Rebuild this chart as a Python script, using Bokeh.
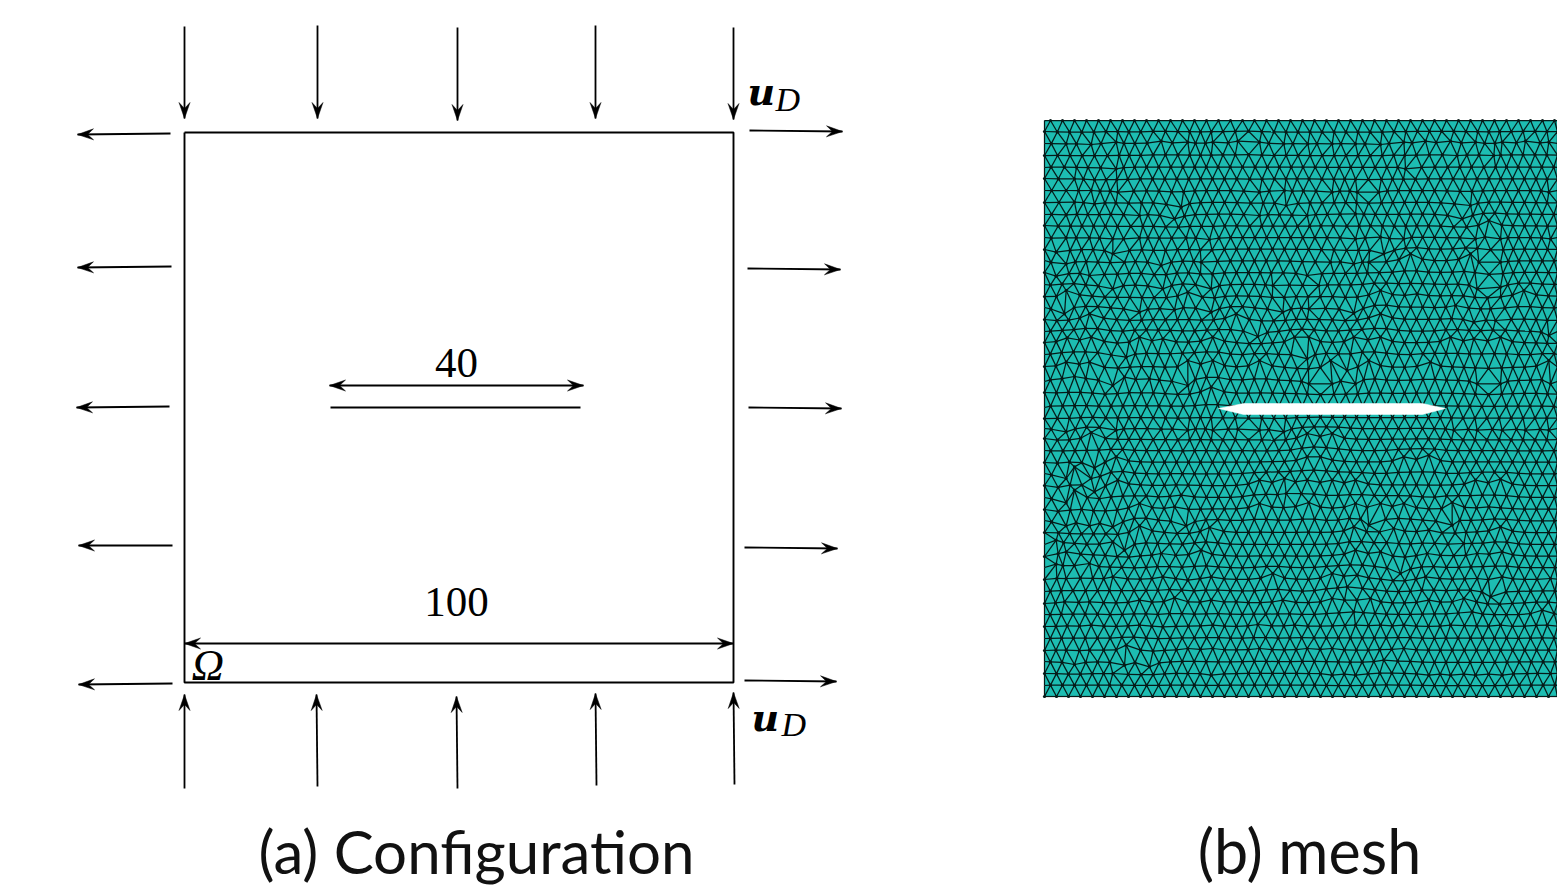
import numpy as np
from bokeh.plotting import figure
from bokeh.models import Range1d
from bokeh.core.properties import value
from bokeh.embed import file_html
from bokeh.resources import INLINE

# Boundary-load arrows: start x, start y, tip x, tip y
down_x0 = [184, 317, 457, 595, 733]
down_y0 = [26, 25, 27, 25, 27]
down_x1 = [184, 317, 457, 595, 733]
down_y1 = [118, 118, 120, 118, 119]
up_x0 = [184, 317, 457, 596, 734]
up_y0 = [788, 786, 788, 785, 784]
up_x1 = [184, 316, 456, 595, 733]
up_y1 = [694, 694, 696, 693, 692]
left_x0 = [170, 171, 169, 172, 172]
left_y0 = [133, 266, 406, 545, 683]
left_x1 = [77, 77, 76, 78, 78]
left_y1 = [134, 267, 407, 545, 684]
right_x0 = [749, 747, 748, 744, 744]
right_y0 = [130, 268, 407, 547, 680]
right_x1 = [842, 840, 841, 837, 836]
right_y1 = [131, 269, 408, 548, 681]

# Dimension arrows (both ends have a head)
dim_x0 = [329, 184]
dim_x1 = [583, 733]
dim_y = [385, 643]
dim_labels = ["40", "100"]
dim_label_x = [456, 456]
dim_label_y = [362, 601]

# Domain outline and crack
square_x = [184, 733, 733, 184, 184]
square_y = [132, 132, 682, 682, 132]
crack_line_x = [330, 580]
crack_line_y = [407, 407]

# Captions
caption_a, caption_a_x, caption_a_y = "(a) Configuration", 476, 850
caption_b, caption_b_x, caption_b_y = "(b) mesh", 1309, 850

# Mesh rows and columns
mesh_rows = [120, 131, 143, 155, 167, 178, 190, 202, 214, 225, 237, 249, 260,
             272, 284, 296, 307, 319, 331, 342, 354, 366, 381, 392, 407, 418,
             428, 438, 450, 462, 473, 485, 497, 509, 520, 532, 544, 556, 567,
             579, 591, 603, 614, 626, 638, 650, 661, 673, 685, 696]
mesh_cols = [1038, 1050, 1062, 1074, 1086, 1098, 1110, 1122, 1134, 1146, 1158,
             1170, 1182, 1194, 1206, 1218, 1230, 1242, 1254, 1266, 1278, 1290,
             1302, 1314, 1326, 1338, 1350, 1362, 1374, 1386, 1398, 1410, 1422,
             1434, 1446, 1458, 1470, 1482, 1494, 1506, 1518, 1530, 1542, 1554, 1566]
mesh_left, mesh_right, mesh_top, mesh_bottom = 1044, 1557, 120, 696
hole_x = [1218, 1243, 1422, 1445, 1422, 1243]
hole_y = [408, 403, 403, 408, 414, 414]

hubs_top_left = [(65,70),(140,72),(215,65),(350,62),(430,65),(505,65),(580,62),(645,65),(718,70),
    (90,175),(150,178),(215,145),(65,210),(140,210),(220,215),(90,245),(150,250),(285,285),
    (410,260),(390,295),(65,283),(65,352),(135,352),(205,355),(285,352),(425,352),(495,357),
    (645,215),(720,210),(725,255),(645,285),(35,395),(65,430),(35,467),(135,465),(205,400),
    (240,425),(350,435),(470,425),(65,510),(205,505),(355,505),(430,515),(500,505),(685,495),
    (60,580),(135,580),(285,575),(390,568),(500,575),(575,580),(715,575),(68,652),(140,650),
    (285,650),(355,655),(505,650),(640,648),(750,650),(65,725),(135,725),(245,710),(430,720),
    (505,720),(645,720),(90,768),(240,770),(315,775),(500,800),(430,795),(205,795)]
hubs_top_right = [(22,70),(95,70),(165,70),(240,72),(310,65),(375,62),(450,62),(525,65),(605,65),
    (675,62),(745,65),(95,215),(170,215),(235,215),(315,145),(470,105),(580,105),(745,215),
    (510,255),(485,295),(565,300),(20,285),(165,280),(240,350),(310,355),(525,355),(600,355),
    (750,355),(165,355),(90,425),(160,430),(205,425),(250,400),(330,400),(510,400),(535,425),
    (600,425),(20,465),(55,495),(240,510),(350,520),(530,505),(600,500),(670,510),(25,565),
    (160,578),(240,580),(465,555),(570,565),(520,605),(585,600),(745,645),(25,650),(160,650),
    (240,650),(450,650),(520,655),(600,650),(20,715),(90,720),(205,720),(390,725),(745,720),
    (25,790),(95,790),(165,790),(530,790),(600,790),(750,790),(140,750)]
hubs_bottom_right = [(20,75),(95,75),(460,65),(530,65),(605,65),(675,65),(745,65),(20,145),(60,145),
    (310,145),(385,140),(20,215),(95,215),(165,215),(525,215),(600,212),(25,282),(165,285),
    (240,285),(310,285),(455,282),(565,295),(160,355),(205,350),(280,360),(385,365),(455,350),
    (600,355),(490,405),(165,425),(240,430),(380,435),(530,435),(605,430),(95,495),(170,500),
    (300,495),(375,505),(530,510),(605,505),(750,510),(95,570),(140,535),(210,570),(385,575),
    (490,570),(570,565),(160,610),(515,610),(725,605),(165,650),(240,650),(310,650),(450,650),
    (600,650),(740,650),(20,720),(310,720),(95,720),(25,795),(95,800),(165,800),(250,755),
    (385,800),(450,800),(525,800),(605,800),(680,795),(750,795)]

W, H = 1557, 886
p = figure(width=W, height=H, x_range=Range1d(0, W), y_range=Range1d(H, 0),
           output_backend="svg", toolbar_location=None, min_border=0, margin=0)
p.axis.visible = False
p.grid.visible = False
p.outline_line_color = None


def arrows(x0, y0, x1, y1, both=False):
    x0, y0, x1, y1 = map(lambda a: np.asarray(a, float), (x0, y0, x1, y1))
    p.segment(x0, y0, x1, y1, line_color="black", line_width=1.8)
    pairs = [(x0, y0, x1, y1)] + ([(x1, y1, x0, y0)] if both else [])
    for ax, ay, bx, by in pairs:
        L = np.hypot(bx - ax, by - ay)
        ux, uy = (bx - ax) / L, (by - ay) / L
        xs, ys = [], []
        for tx, ty, dx, dy in zip(bx, by, ux, uy):
            xs.append([tx, tx - 16 * dx - 5.5 * dy, tx - 10 * dx, tx - 16 * dx + 5.5 * dy])
            ys.append([ty, ty - 16 * dy + 5.5 * dx, ty - 10 * dy, ty - 16 * dy - 5.5 * dx])
        p.patches(xs, ys, fill_color="black", line_color="black", line_width=0.5)


# Mesh nodes: staggered rows; nodes read as irregular are pinned, the rest relax around them
rows = np.array(mesh_rows, float)
cols = np.array(mesh_cols, float)
half = (cols[1] - cols[0]) / 2
nr, nc = len(rows), len(cols)
nx = np.array([cols + (half if i % 2 else 0.0) for i in range(nr)])
ny = np.array([np.full(nc, y) for y in rows])


def neighbours(i, j):
    out = []
    if j > 0:
        out.append((i, j - 1))
    if j + 1 < nc:
        out.append((i, j + 1))
    for r in (i - 1, i + 1):
        if 0 <= r < nr:
            k = j + 1 if i % 2 else j
            for m in (k - 1, k):
                if 0 <= m < nc:
                    out.append((r, m))
    return out


hubs = ([(1044 + a / 3, 120 + b / 3) for a, b in hubs_top_left]
        + [(1300 + a / 3, 120 + b / 3) for a, b in hubs_top_right]
        + [(1300 + a / 3, 408 + b / 3) for a, b in hubs_bottom_right]
        + [(1044 + a / 3, 408 + b / 3) for a, b in hubs_top_left])
pinned = set()
for a, b in hubs:
    d = (nx - a) ** 2 + (ny - b) ** 2
    i, j = np.unravel_index(np.argmin(d), d.shape)
    if 0 < i < nr - 1 and (i, j) not in pinned:
        nx[i, j], ny[i, j] = a, b
        pinned.add((i, j))
for _ in range(4):
    sx, sy = nx.copy(), ny.copy()
    for i in range(1, nr - 1):
        for j in range(1, nc - 1):
            if (i, j) in pinned:
                continue
            nb = neighbours(i, j)
            sx[i, j] = 0.4 * nx[i, j] + 0.6 * np.mean([nx[c] for c in nb])
            sy[i, j] = 0.4 * ny[i, j] + 0.6 * np.mean([ny[c] for c in nb])
    nx, ny = sx, sy

ex0, ey0, ex1, ey1 = [], [], [], []
for i in range(nr):
    for j in range(nc):
        for r, m in neighbours(i, j):
            if (r, m) > (i, j):
                ex0.append(nx[i, j]); ey0.append(ny[i, j]); ex1.append(nx[r, m]); ey1.append(ny[r, m])
ex0 = np.clip(ex0, mesh_left, mesh_right)
ex1 = np.clip(ex1, mesh_left, mesh_right)

p.quad(left=[mesh_left], right=[mesh_right], top=[mesh_top], bottom=[mesh_bottom],
       fill_color="#1dbdb2", line_color=None)
p.segment(ex0, ey0, ex1, ey1, line_color="#061a18", line_width=1.25)
inside = (nx >= mesh_left) & (nx <= mesh_right)
p.scatter(nx[inside], ny[inside], size=3.2, fill_color="#061a18", line_color=None)
p.patch(hole_x, hole_y, fill_color="white", line_color="white", line_width=0.5)

# Configuration sketch
p.line(square_x, square_y, line_color="black", line_width=1.9)
p.line(crack_line_x, crack_line_y, line_color="black", line_width=1.9)
arrows(down_x0, down_y0, down_x1, down_y1)
arrows(up_x0, up_y0, up_x1, up_y1)
arrows(left_x0, left_y0, left_x1, left_y1)
arrows(right_x0, right_y0, right_x1, right_y1)
arrows(dim_x0, dim_y, dim_x1, dim_y, both=True)

serif = value("Liberation Serif")
p.text(dim_label_x, dim_label_y, text=dim_labels, text_font=serif,
       text_font_size="43px", text_align="center", text_baseline="alphabetic")
p.text([191], [664], text=["\u03a9"], text_font=serif, text_font_style="italic",
       text_font_size="45px", text_align="left", text_baseline="alphabetic")
p.text([747, 751], [91, 717], text=["u", "u"], text_font=value("DejaVu Serif"),
       text_font_style="bold italic", text_font_size="38px",
       text_align="left", text_baseline="alphabetic")
p.text([775, 781], [99, 724], text=["D", "D"], text_font=serif,
       text_font_style="italic", text_font_size="34px",
       text_align="left", text_baseline="alphabetic")
p.text([caption_a_x], [caption_a_y], text=[caption_a], text_font=value("Lato"),
       text_font_size="60px", text_align="center", text_baseline="alphabetic",
       text_color="#111111")
p.text([caption_b_x], [caption_b_y], text=[caption_b], text_font=value("Lato"),
       text_font_size="61px", text_align="center", text_baseline="alphabetic",
       text_color="#111111")

open("out.html", "w").write(file_html(p, INLINE))
